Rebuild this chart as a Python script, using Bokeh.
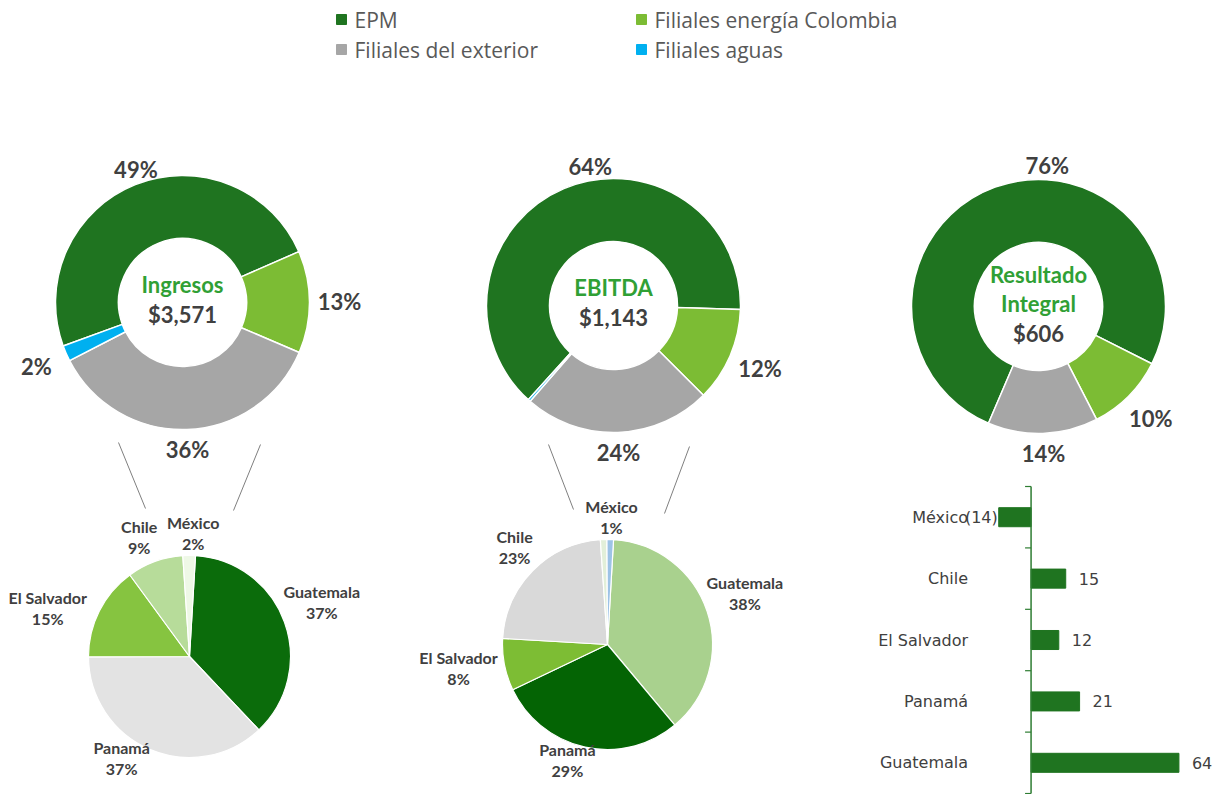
import math
from bokeh.plotting import figure
from bokeh.models import Range1d, ColumnDataSource
from bokeh.core.properties import value
from bokeh.embed import file_html
from bokeh.resources import INLINE

# ---------------- data ----------------
segments = ["EPM", "Filiales energía Colombia", "Filiales del exterior", "Filiales aguas"]
ingresos_pct = [49, 13, 36, 2]
ebitda_pct = [64, 12, 24, 0.3]
resultado_pct = [76, 10, 14, 0]
donut_titles = [["Ingresos"], ["EBITDA"], ["Resultado", "Integral"]]
donut_totals = ["$3,571", "$1,143", "$606"]

ing_countries = ["Guatemala", "Panamá", "El Salvador", "Chile", "México"]
ing_country_pct = [37, 37, 15, 9, 2]
ebitda_countries = ["Guatemala", "Panamá", "El Salvador", "Chile", "México"]
ebitda_country_pct = [38, 29, 8, 23, 1]

res_countries = ["Guatemala", "Panamá", "El Salvador", "Chile", "México"]
res_values = [64, 21, 12, 15, -14]

# ---------------- style / layout ----------------
seg_colors = ["#1f7420", "#7cbc34", "#a6a6a6", "#00b0f0"]
ing_pie_colors = ["#0b6c0b", "#e3e3e3", "#86c440", "#b7dc9a", "#eef8e6"]
ebitda_pie_colors = ["#a9d18e", "#046404", "#7dbd34", "#d9d9d9", "#e2efd9"]
remainder_color = "#9dc3e6"
TXT = "#404040"
GREEN_TXT = "#30a035"
BAR_GREEN = "#1f7420"
AXIS_GREEN = "#2e7d32"

# label angle adjustments (degrees) – layout only
epm_label_angle = [-19.3, -9.5, 3.6]
ing_label_nudge = [0, 9, -10, -4, 2]
ebitda_label_nudge = [0, 6, 0, 0, 4]

W, H = 1214, 794


def Y(py):
    return H - py


p = figure(width=W, height=H, x_range=Range1d(0, W), y_range=Range1d(0, H),
           output_backend="svg", toolbar_location=None,
           x_axis_type=None, y_axis_type=None, min_border=0,
           outline_line_color=None, background_fill_color="white",
           border_fill_color="white")
p.grid.visible = False

# ---------------- legend ----------------
leg_cols_x = [341, 641]
leg_rows_y = [19, 49]
lx, ly = [], []
for i, s in enumerate(segments):
    lx.append(leg_cols_x[i % 2])
    ly.append(Y(leg_rows_y[i // 2]))
p.rect(x=lx, y=ly, width=10, height=10, color=seg_colors)
p.text(x=[x + 13 for x in lx], y=ly, text=segments, text_font=value("Open Sans"),
       text_font_size="21px", text_color="#595959", text_align="left",
       text_baseline="middle")


# ---------------- donuts ----------------
def label_offset(r, ang, w, h, pad):
    return r + pad + (w / 2) * abs(math.sin(ang)) + (h / 2) * abs(math.cos(ang))


donut_centers = [(182, 302), (613, 305), (1038, 306)]
R_OUT, R_IN = 127, 64
for k, pcts in enumerate([ingresos_pct, ebitda_pct, resultado_pct]):
    cx, cyp = donut_centers[k]
    cy = Y(cyp)
    tot = sum(pcts)
    fr = [v / tot for v in pcts]
    start = 178 - (sum(fr[:2]) * 360 + fr[2] * 180)
    sa, ea, cols, lxs, lys, ltx = [], [], [], [], [], []
    s = start
    for j, (f, c, v) in enumerate(zip(fr, seg_colors, pcts)):
        e = s + f * 360
        if f > 0:
            sa.append(math.radians(90 - e))
            ea.append(math.radians(90 - s))
            cols.append(c)
        if v >= 1:
            t = f"{v:.0f}%"
            if j == 0:
                mid = math.radians(epm_label_angle[k])
                d = 141
            else:
                mid = math.radians(s + f * 180)
                d = label_offset(R_OUT, mid, 44, 22, 8)
            lxs.append(cx + d * math.sin(mid))
            lys.append(cy + d * math.cos(mid))
            ltx.append(t)
        s = e
    p.annular_wedge(x=cx, y=cy, inner_radius=R_IN, outer_radius=R_OUT,
                    start_angle=sa, end_angle=ea, fill_color=cols,
                    line_color="white", line_width=1.5)
    p.text(x=lxs, y=lys, text=ltx, text_font=value("Lato"), text_font_size="22px",
           text_font_style="bold", text_color=TXT, text_align="center",
           text_baseline="middle")
    lines = donut_titles[k] + [donut_totals[k]]
    n = len(lines)
    ys = [cy + 3 + 29.5 * ((n - 1) / 2 - i) for i in range(n)]
    tcols = [GREEN_TXT] * (n - 1) + [TXT]
    p.text(x=[cx] * n, y=ys, text=lines, text_font=value("Lato"), text_font_size="22px",
           text_font_style="bold", text_color=tcols, text_align="center",
           text_baseline="middle")

# ---------------- connector lines ----------------
conn_x0 = [118, 260, 548, 689]
conn_y0 = [442, 444, 444, 446]
conn_x1 = [145, 233, 573, 664]
conn_y1 = [508, 510, 509, 513]
p.segment(x0=conn_x0, y0=[Y(v) for v in conn_y0], x1=conn_x1, y1=[Y(v) for v in conn_y1],
          line_color="#7f7f7f", line_width=1)


# ---------------- pies ----------------
def draw_pie(cx, cyp, r, names, pcts, colors, start, nudges):
    cy = Y(cyp)
    sa, ea, cols = [], [], []
    nx, ny, px_, py_, nt, pt = [], [], [], [], [], []
    s = start
    for nm, v, c, nd in zip(names, pcts, colors, nudges):
        e = s + v / 100 * 360
        sa.append(math.radians(90 - e))
        ea.append(math.radians(90 - s))
        cols.append(c)
        mid = math.radians((s + e) / 2 + nd)
        w = max(len(nm), 3) * 7.8
        d = label_offset(r, mid, w, 28, 2)
        x = cx + d * math.sin(mid)
        y = cy + d * math.cos(mid) + 6
        nx.append(x); ny.append(y + 10.5); nt.append(nm)
        px_.append(x); py_.append(y - 10.5); pt.append(f"{v}%")
        s = e
    rem = 100 - sum(pcts)
    if rem > 0:
        e = s + rem / 100 * 360
        sa.append(math.radians(90 - e))
        ea.append(math.radians(90 - s))
        cols.append(remainder_color)
    p.wedge(x=cx, y=cy, radius=r, start_angle=sa, end_angle=ea, fill_color=cols,
            line_color="white", line_width=1.2)
    p.text(x=nx, y=ny, text=nt, text_font=value("Lato"), text_font_size="16px",
           text_font_style="bold", text_color=TXT, text_align="center",
           text_baseline="middle")
    p.text(x=px_, y=py_, text=pt, text_font=value("Lato"), text_font_size="16px",
           text_font_style="bold", text_color=TXT, text_align="center",
           text_baseline="middle")


draw_pie(189, 656, 101, ing_countries, ing_country_pct, ing_pie_colors, 3.4, ing_label_nudge)
draw_pie(607, 644, 105, ebitda_countries, ebitda_country_pct, ebitda_pie_colors, 3.3,
         ebitda_label_nudge)

# ---------------- bar chart (Resultado integral por país) ----------------
p.extra_x_ranges = {"bar": Range1d(-446.1, 79.4)}
p.extra_y_ranges = {"bar": Range1d(-0.516, 12.415)}
idx = list(range(len(res_countries)))
src = ColumnDataSource(dict(
    y=idx, v=res_values, cat=res_countries,
    lab=[f"({abs(v)})" if v < 0 else f"{v}" for v in res_values],
    align=["right" if v < 0 else "left" for v in res_values],
    off=[-1 if v < 0 else 13 for v in res_values],
))
p.hbar(y="y", left=0, right="v", height=0.31, source=src, fill_color=BAR_GREEN,
       line_color=BAR_GREEN, x_range_name="bar", y_range_name="bar")
p.segment(x0=[0], y0=[-0.5], x1=[0], y1=[len(idx) - 0.5], line_color=AXIS_GREEN,
          line_width=1.5, x_range_name="bar", y_range_name="bar")
tick_y = [i - 0.5 for i in range(len(idx) + 1)]
p.segment(x0=[0] * len(tick_y), y0=tick_y, x1=[-2.6] * len(tick_y), y1=tick_y,
          line_color=AXIS_GREEN, line_width=1.2, x_range_name="bar", y_range_name="bar")
p.text(x=0, y="y", text="cat", source=src, x_offset=-63, text_font=value("DejaVu Sans"),
       text_font_size="16px", text_color=TXT, text_align="right", text_baseline="middle",
       x_range_name="bar", y_range_name="bar")
p.text(x="v", y="y", text="lab", source=src, x_offset="off", text_font=value("DejaVu Sans"),
       text_font_size="16px", text_color=TXT, text_align="align", text_baseline="middle",
       x_range_name="bar", y_range_name="bar")

open("out.html", "w").write(file_html(p, INLINE))
